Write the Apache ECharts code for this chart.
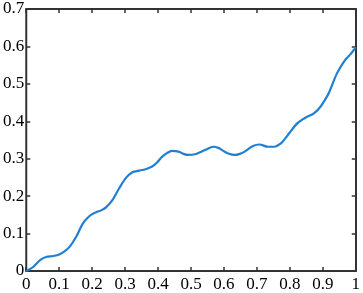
<!DOCTYPE html>
<html>
<head>
<meta charset="utf-8">
<script src="https://cdn.jsdelivr.net/npm/echarts@6/dist/echarts.min.js"></script>
<style>
html,body{margin:0;padding:0;background:#fff;}
#chart{width:363px;height:293px;}
</style>
</head>
<body>
<div id="chart"></div>
<script>
var xValues = [0,0.02,0.042,0.062,0.082,0.102,0.117,0.132,0.152,0.172,0.192,0.212,0.227,0.242,0.262,0.282,0.302,0.322,0.342,0.362,0.382,0.397,0.412,0.427,0.442,0.462,0.477,0.492,0.512,0.527,0.542,0.568,0.583,0.598,0.613,0.633,0.648,0.663,0.688,0.708,0.733,0.753,0.773,0.785,0.798,0.823,0.848,0.873,0.893,0.905,0.918,0.943,0.968,0.985,1.0];
var yValues = [0,0.01,0.029,0.038,0.040,0.045,0.053,0.065,0.092,0.127,0.147,0.157,0.162,0.170,0.190,0.221,0.248,0.264,0.268,0.272,0.279,0.290,0.305,0.315,0.321,0.319,0.313,0.310,0.312,0.317,0.323,0.332,0.329,0.321,0.314,0.310,0.313,0.319,0.334,0.338,0.332,0.332,0.341,0.353,0.368,0.395,0.410,0.421,0.439,0.455,0.475,0.528,0.564,0.580,0.598];
var xTicks = [0,0.1,0.2,0.3,0.4,0.5,0.6,0.7,0.8,0.9,1];
var yTicks = [0,0.1,0.2,0.3,0.4,0.5,0.6,0.7];

var data = xValues.map(function(x,i){return [x,yValues[i]];});
var lineC = '#333';
var labelFont = {fontFamily:'Liberation Serif', fontSize:17, color:'#000'};
function baseAxis(extra){
  var a = {
    type:'value',
    axisLine:{show:true,onZero:false,lineStyle:{color:lineC,width:2}},
    axisTick:{show:true,inside:true,length:4,lineStyle:{color:lineC,width:1.5}},
    splitLine:{show:false}
  };
  for (var k in extra) a[k]=extra[k];
  return a;
}
var chart = echarts.init(document.getElementById('chart'));
chart.setOption({
  animation:false,
  grid:{left:26,right:4,top:9,bottom:22,containLabel:false},
  xAxis:[
    baseAxis({min:xTicks[0],max:xTicks[xTicks.length-1],interval:0.1,position:'bottom',
      axisLabel:Object.assign({margin:5},labelFont)}),
    baseAxis({min:xTicks[0],max:xTicks[xTicks.length-1],interval:0.1,position:'top',axisLabel:{show:false}})
  ],
  yAxis:[
    baseAxis({min:yTicks[0],max:yTicks[yTicks.length-1],interval:0.1,position:'left',
      axisLabel:Object.assign({margin:2},labelFont)}),
    baseAxis({min:yTicks[0],max:yTicks[yTicks.length-1],interval:0.1,position:'right',axisLabel:{show:false}})
  ],
  series:[{
    type:'line',
    data:data,
    showSymbol:false,
    smooth:0.3,
    lineStyle:{color:'#1f7fd2',width:2.2},
    xAxisIndex:0,yAxisIndex:0
  }]
});
</script>
</body>
</html>
